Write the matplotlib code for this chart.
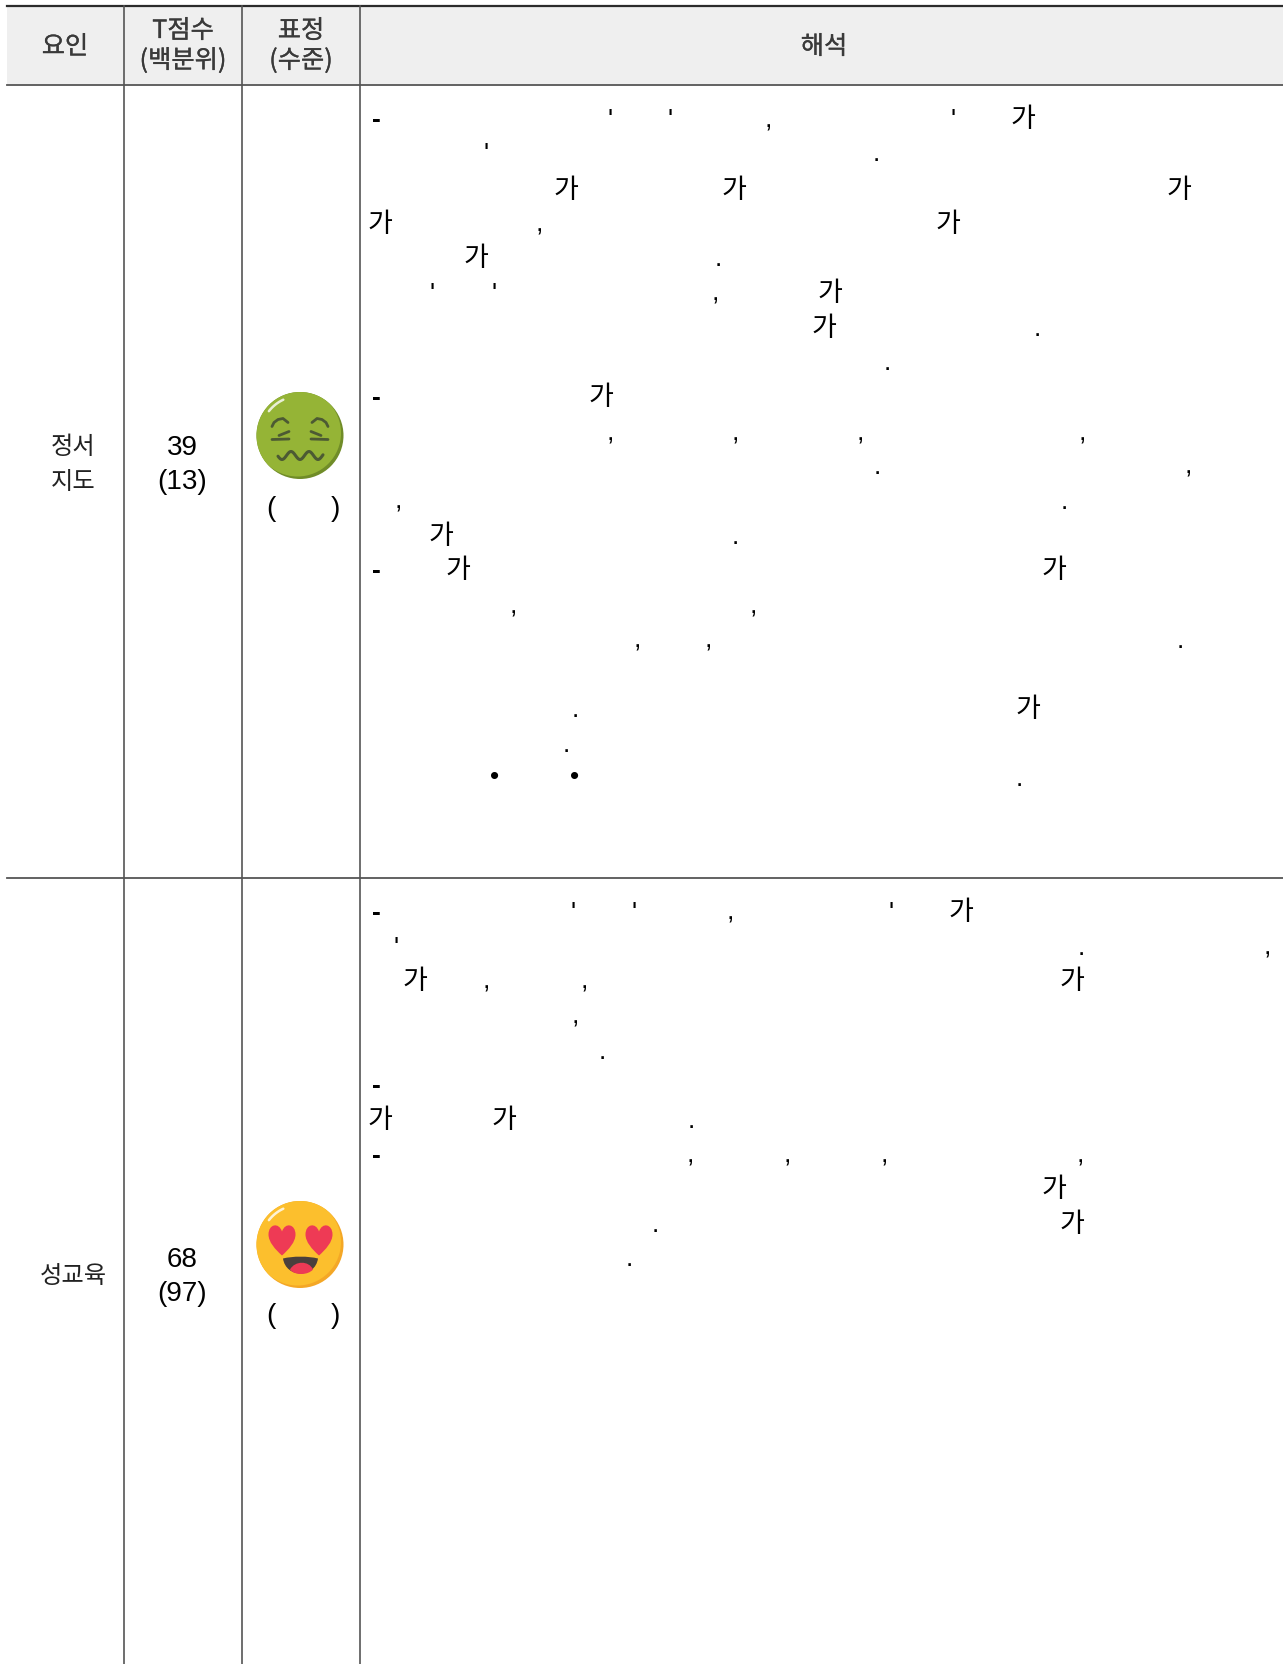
import matplotlib
matplotlib.use("Agg")
import matplotlib.pyplot as plt
from matplotlib.patches import Circle, Rectangle, PathPatch
from matplotlib.path import Path
import matplotlib.patheffects as pe
import numpy as np

plt.rcParams['font.family'] = ['Liberation Sans', 'Noto Sans CJK KR']

W, H = 1283, 1665
S = W / 1208.0  # fragment positions below were read at 1208 px wide

header_labels = ["요인", "T점수", "(백분위)", "표정", "(수준)", "해석"]
factor_rows = [["정서", "지도"], ["성교육"]]
t_scores = [39, 68]
percentiles = [13, 97]

# text fragments left in the interpretation column: baseline, then (glyph, x)
fragments = [
    (120, [("-", 354), ("'", 574), ("'", 631), (",", 723), ("'", 897), ("가", 964)]),
    (152, [("'", 458), (".", 825)]),
    (186, [("가", 533), ("가", 692), ("가", 1111)]),
    (218, [("가", 358), (",", 508), ("가", 893)]),
    (250.5, [("가", 449), (".", 676)]),
    (283, [("'", 407), ("'", 465), (",", 673), ("가", 782)]),
    (316, [("가", 776), (".", 977)]),
    (348, [(".", 835)]),
    (381.5, [("-", 354), ("가", 566)]),
    (415, [(",", 575), (",", 692), (",", 810), (",", 1019)]),
    (446, [(".", 826), (",", 1119)]),
    (479, [(",", 375), (".", 1002)]),
    (512, [("가", 416), (".", 692)]),
    (544.5, [("-", 354), ("가", 432), ("가", 993)]),
    (578, [(",", 483), (",", 709)]),
    (610, [(",", 600), (",", 667), (".", 1111)]),
    (675, [(".", 542), ("가", 968)]),
    (708, [(".", 533)]),
    (738, [("•", 466), ("•", 541)]),
    (740, [(".", 960)]),
    (866, [("-", 354), ("'", 540), ("'", 597), (",", 688), ("'", 839), ("가", 905)]),
    (899, [("'", 373), (".", 1018), (",", 1193)]),
    (931, [("가", 391), (",", 458), (",", 550), ("가", 1010)]),
    (964, [(",", 542)]),
    (997, [(".", 567)]),
    (1029, [("-", 354)]),
    (1062, [("가", 358), ("가", 475), (".", 651)]),
    (1095, [("-", 354), (",", 650), (",", 741), (",", 833), (",", 1017)]),
    (1127, [("가", 993)]),
    (1160, [(".", 617), ("가", 1010)]),
    (1192, [(".", 592)]),
]

fig = plt.figure(figsize=(W / 100, H / 100), dpi=100)
ax = fig.add_axes([0, 0, 1, 1])
ax.set_xlim(0, W)
ax.set_ylim(H, 0)
ax.axis("off")

# table frame
ax.add_patch(Rectangle((6.5, 7), W - 6, 78, fc="#efefef", ec="none", zorder=0))
ax.plot([6.5, W], [7, 7], color="#2b2b2b", lw=1.6)
ax.plot([6.5, W], [85.5, 85.5], color="#555555", lw=1.3)
ax.plot([6.5, W], [879, 879], color="#555555", lw=1.3)
for x in [124, 242, 360]:
    ax.plot([x, x], [7, H], color="#555555", lw=1.2)

# header, stroked a little since only the regular cut gets picked up
head_style = dict(ha="center", va="center", fontsize=18.2, color="#3a3a3a",
                  family=["Noto Sans CJK KR", "Liberation Sans"],
                  path_effects=[pe.withStroke(linewidth=0.2, foreground="#3a3a3a")])
ax.text(65, 48, header_labels[0], **head_style)
ax.text(183, 32, header_labels[1], **head_style)
ax.text(183, 62, header_labels[2], **head_style)
ax.text(301, 32, header_labels[3], **head_style)
ax.text(301, 62, header_labels[4], **head_style)
ax.text(824, 48, header_labels[5], **head_style)

# first columns
side_style = dict(ha="center", va="center", fontsize=17.5, color="#222222",
                  family=["Noto Sans CJK KR", "Liberation Sans"])
ax.text(73, 447.5, factor_rows[0][0], **side_style)
ax.text(73, 482.5, factor_rows[0][1], **side_style)
ax.text(73, 1276, factor_rows[1][0], **side_style)

num_style = dict(ha="center", va="center", fontsize=20, color="black")
ax.text(182, 448, str(t_scores[0]), **num_style)
ax.text(182, 482.5, f"({percentiles[0]})", **num_style)
ax.text(182, 1260, str(t_scores[1]), **num_style)
ax.text(182, 1294.5, f"({percentiles[1]})", **num_style)

for y in [509, 1316.5]:
    ax.text(271, y, "(", **num_style)
    ax.text(335, y, ")", **num_style)

# leftover glyphs in the interpretation column
for base, glyphs in fragments:
    for ch, x in glyphs:
        if ch == "가":
            ax.text((x - 0.5) * S, base * S, ch, ha="center", va="baseline", fontsize=19.5,
                    color="black", family=["Noto Sans CJK KR", "Liberation Sans"])
        else:
            ax.text(x * S, base * S, ch, ha="center", va="baseline", fontsize=19,
                    color="black", weight="bold" if ch == "-" else "normal")


def curve(cx, cy, pts, color, lw=2.0):
    xs = [cx + p[0] for p in pts]
    ys = [cy + p[1] for p in pts]
    ax.plot(xs, ys, color=color, lw=lw, solid_capstyle="round", solid_joinstyle="round")


def shaded_face(cx, cy, r, base, dark):
    ax.add_patch(Circle((cx, cy), r, fc=dark, ec="none"))
    # lighter disc shifted up-left leaves the crescent at the lower right
    clip = Circle((cx, cy), r, transform=ax.transData)
    top = Circle((cx - 2.5, cy - 2.5), r, fc=base, ec="none")
    ax.add_patch(top)
    top.set_clip_path(clip)
    t = np.radians(np.linspace(218, 245, 12))
    ax.plot(cx + 39.5 * np.cos(t), cy + 39.5 * np.sin(t), color="#ffffff", lw=1.8, alpha=0.8,
            solid_capstyle="round")


def heart(cx, cy, w, h, color):
    verts = [(0, 0.5 * h), (-0.25 * w, 0.3 * h), (-0.5 * w, 0.05 * h), (-0.5 * w, -0.2 * h),
             (-0.5 * w, -0.55 * h), (-0.12 * w, -0.62 * h), (0, -0.3 * h),
             (0.12 * w, -0.62 * h), (0.5 * w, -0.55 * h), (0.5 * w, -0.2 * h),
             (0.5 * w, 0.05 * h), (0.25 * w, 0.3 * h), (0, 0.5 * h)]
    verts = [(cx + a, cy + b) for a, b in verts]
    codes = [Path.MOVETO] + [Path.CURVE4] * 12
    ax.add_patch(PathPatch(Path(verts, codes), fc=color, ec="none"))


# green face
gx, gy = 300, 436.5
shaded_face(gx, gy, 43.5, "#95b436", "#708c28")
eye = "#4c5a33"
for sx in (-1, 1):
    curve(gx, gy, [(sx * 28, -9), (sx * 26, -13), (sx * 22, -16), (sx * 17, -17), (sx * 12, -13)], eye)
    curve(gx, gy, [(sx * 11, -4), (sx * 21, 0)], eye)
    curve(gx, gy, [(sx * 28, 4), (sx * 11, 3.5)], eye)
wave_x = np.linspace(-22, 23, 60)
curve(gx, gy, list(zip(wave_x, 20 + 4 * np.cos(2 * np.pi * wave_x / 18))), eye, lw=2.2)

# yellow face
yx, yy = 300, 1245.5
shaded_face(yx, yy, 43.5, "#fcbf2d", "#f4a726")
heart(yx - 18, yy - 4, 27, 30, "#ee3a55")
heart(yx + 19, yy - 4, 27, 30, "#ee3a55")
mouth = [(-17, 14), (-7, 11.5), (8, 11.5), (18, 14), (15, 34), (-14, 34), (-17, 14)]
mouth = [(yx + a, yy + b) for a, b in mouth]
ax.add_patch(PathPatch(Path(mouth, [Path.MOVETO] + [Path.CURVE4] * 6), fc="#4a3f3c", ec="none"))
tongue = [(-10, 25), (-5, 16), (9, 16), (13, 25), (8, 31), (-6, 31), (-10, 25)]
tongue = [(yx + a, yy + b) for a, b in tongue]
ax.add_patch(PathPatch(Path(tongue, [Path.MOVETO] + [Path.CURVE4] * 6), fc="#ee3a55", ec="none"))

fig.savefig("out.png", dpi=100, facecolor="white")
